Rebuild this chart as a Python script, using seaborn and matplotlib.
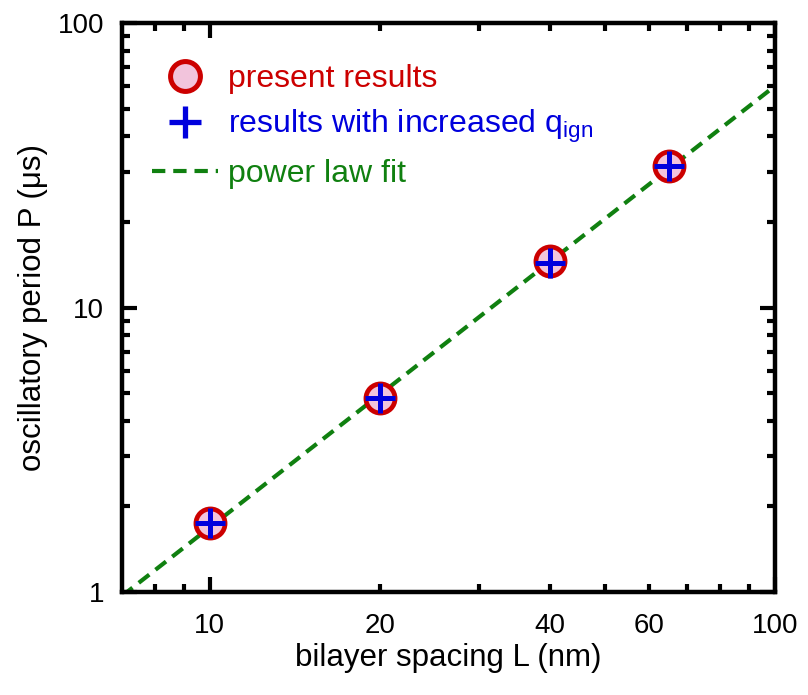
import matplotlib
matplotlib.use("Agg")
import matplotlib.pyplot as plt
import seaborn as sns
import pandas as pd
from matplotlib.lines import Line2D
from matplotlib.ticker import NullFormatter

# valeurs
L_present = [10, 20, 40, 65]
P_present = [1.75, 4.8, 14.6, 31.5]
L_qign = [10, 20, 40, 65]
P_qign = [1.75, 4.8, 14.3, 31.5]
fit_L = [7, 100]
fit_P = [0.97, 60]

x_ticks = [10, 20, 40, 60, 100]
x_minor = [8, 9, 30, 50, 70, 80, 90]
y_ticks = [1, 10, 100]

sns.set_style("ticks")
plt.rcParams['font.family'] = ['Liberation Sans', 'DejaVu Sans']
plt.rcParams['text.color'] = 'black'
plt.rcParams['axes.labelcolor'] = 'black'
plt.rcParams['xtick.color'] = 'black'
plt.rcParams['ytick.color'] = 'black'
plt.rcParams['axes.edgecolor'] = 'black'

red = '#cc0000'
blue = '#0000dd'
green = '#108010'
pink = '#f2c4dc'
dash = (0, (3.2, 1.9))

fig = plt.figure(figsize=(8.08, 6.95), dpi=100)
ax = fig.add_axes([0.151, 0.148, 0.808, 0.819])

df_fit = pd.DataFrame({'L': fit_L, 'P': fit_P})
sns.lineplot(data=df_fit, x='L', y='P', ax=ax, color=green, lw=3,
             linestyle=dash, zorder=2)

df_p = pd.DataFrame({'L': L_present, 'P': P_present})
sns.scatterplot(data=df_p, x='L', y='P', ax=ax, s=440, color=pink,
                edgecolor=red, linewidth=3.4, zorder=3)

df_q = pd.DataFrame({'L': L_qign, 'P': P_qign})
ax.plot(df_q['L'], df_q['P'], linestyle='none', marker='+', ms=22,
        mew=3.6, color=blue, zorder=4)

ax.set_xscale('log')
ax.set_yscale('log')
ax.set_xlim(7, 100)
ax.set_ylim(1, 100)

ax.xaxis.set_minor_formatter(NullFormatter())
ax.yaxis.set_minor_formatter(NullFormatter())
ax.set_xticks(x_ticks, minor=False)
ax.set_xticks(x_minor, minor=True)
ax.set_xticklabels([str(t) for t in x_ticks])
ax.set_yticks(y_ticks)
ax.set_yticklabels([str(t) for t in y_ticks])

ax.tick_params(which='both', direction='in', top=True, right=True,
               labelsize=20, width=3)
ax.tick_params(axis='x', which='both', pad=15)
ax.tick_params(axis='y', which='both', pad=13)
ax.tick_params(which='major', length=11)
ax.tick_params(which='minor', length=6)
# 20, 40, 60 sont des graduations secondaires mais étiquetées
for t in ax.xaxis.get_major_ticks():
    if t.get_loc() in (20, 40, 60):
        t.tick1line.set_markersize(6)
        t.tick2line.set_markersize(6)

for s in ax.spines.values():
    s.set_linewidth(3.2)
    s.set_color('black')

ax.set_xlabel('bilayer spacing L (nm)', fontsize=22.5, labelpad=3)
ax.set_ylabel('oscillatory period P (\u03bcs)', fontsize=22.5, labelpad=7)

handles = [
    Line2D([], [], linestyle='none', marker='o', ms=21.5, mfc=pink,
           mec=red, mew=3.6),
    Line2D([], [], linestyle='none', marker='+', ms=23, mew=3.8, color=blue),
    Line2D([], [], color=green, lw=3, linestyle=dash),
]
labels = ['present results', r'results with increased q$_{\mathregular{ign}}$',
          'power law fit']
leg = ax.legend(handles, labels, loc='upper left', frameon=False,
                fontsize=23, handlelength=2.07, handletextpad=0.31,
                labelspacing=0.42, borderaxespad=0, borderpad=0,
                bbox_to_anchor=(0.046, 0.927))
for txt, c in zip(leg.get_texts(), [red, blue, green]):
    txt.set_color(c)

fig.savefig('out.png', dpi=100)
